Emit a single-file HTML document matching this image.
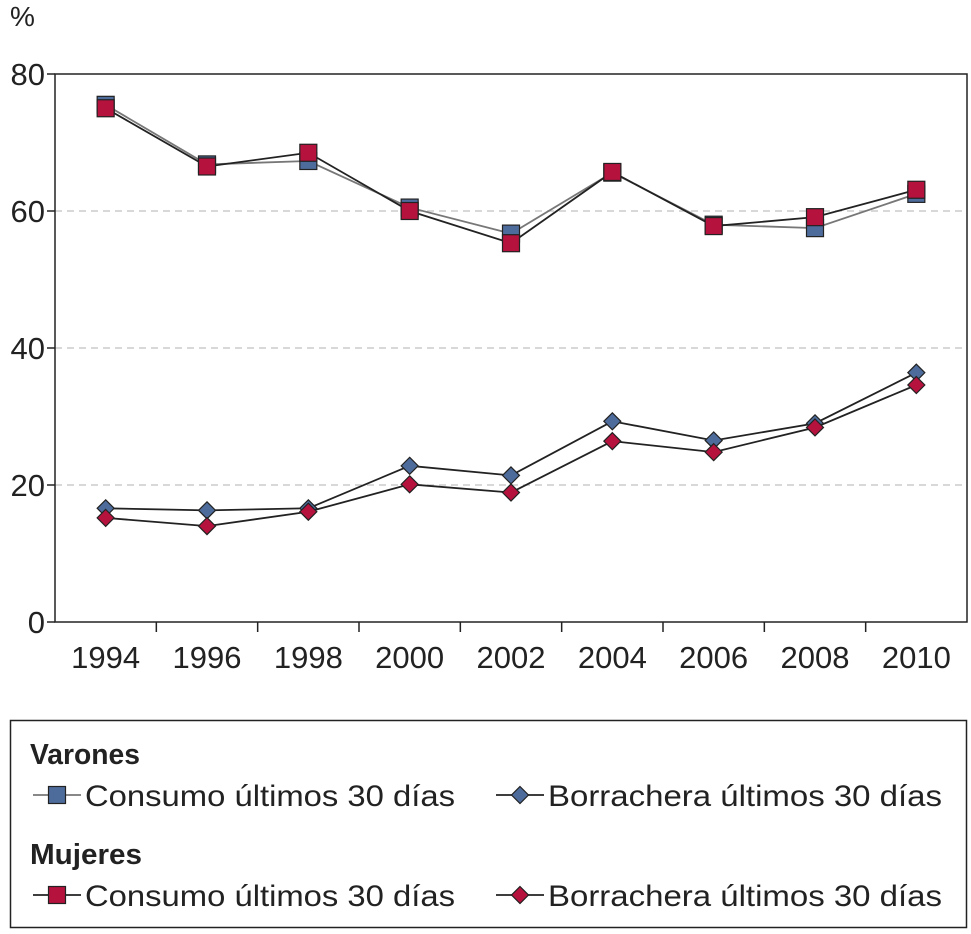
<!DOCTYPE html>
<html><head><meta charset="utf-8"><style>
body{margin:0;background:#fff;width:971px;height:929px;overflow:hidden;font-family:"Liberation Sans",sans-serif;}
svg text{font-family:"Liberation Sans",sans-serif;fill:#222;}
</style></head><body>
<svg id="chart" width="971" height="929" xmlns="http://www.w3.org/2000/svg">
<g id="axes"></g>
<g id="series"></g>
<g id="legend">
<rect x="10.5" y="720.5" width="956" height="207" fill="none" stroke="#222" stroke-width="1.5"/>
<text x="30" y="764" font-size="29" font-weight="bold" textLength="110" lengthAdjust="spacingAndGlyphs">Varones</text>
<text x="30" y="864" font-size="29" font-weight="bold" textLength="112" lengthAdjust="spacingAndGlyphs">Mujeres</text>
</g>
</svg>
<script>
const categories=["1994","1996","1998","2000","2002","2004","2006","2008","2010"];
const varonesConsumo=[75.5,66.8,67.3,60.5,56.7,65.6,58.0,57.5,62.5];
const mujeresConsumo=[75.0,66.5,68.5,60.0,55.3,65.7,57.8,59.1,63.1];
const varonesBorrachera=[16.6,16.3,16.6,22.8,21.4,29.3,26.5,29.0,36.4];
const mujeresBorrachera=[15.2,14.0,16.1,20.1,18.9,26.4,24.8,28.4,34.6];
const yTicks=[0,20,40,60,80];

const NS="http://www.w3.org/2000/svg";
const L=55,R=967,T=74,B=622;
const band=(R-L)/categories.length;
const x=i=>L+band*(i+0.5);
const y=v=>B-(v/80)*(B-T);
function mk(tag,attrs,parent){const e=document.createElementNS(NS,tag);for(const k in attrs)e.setAttribute(k,attrs[k]);parent.appendChild(e);return e;}
const axes=document.getElementById('axes'),ser=document.getElementById('series'),leg=document.getElementById('legend');

yTicks.forEach(t=>{
  if(t>0&&t<80){const g=mk('line',{x1:L,x2:R,y1:y(t),y2:y(t),stroke:'#ccc','stroke-width':1.5,'stroke-dasharray':'7,5'},axes);
  
  }
  const tk=mk('line',{x1:L-8,x2:L,y1:y(t),y2:y(t),stroke:'#222','stroke-width':1.5},axes);
  
  
  const tx=mk('text',{x:L-10,y:y(t)+11,'font-size':31,'text-anchor':'end'},axes);tx.textContent=t;
  
  
});
const pct=mk('text',{x:10,y:26,'font-size':28},axes);pct.textContent='%';


const frame=mk('rect',{x:L,y:T,width:R-L,height:B-T,fill:'none',stroke:'#222','stroke-width':1.5},axes);


for(let i=1;i<categories.length;i++){const tk=mk('line',{x1:L+band*i,x2:L+band*i,y1:B,y2:B+10,stroke:'#222','stroke-width':1.5},axes);

}
categories.forEach((c,i)=>{const tx=mk('text',{x:x(i),y:B+46,'font-size':31,'text-anchor':'middle'},axes);tx.textContent=c;

});

const BLUE='#4d6c9c',RED='#b5123e';
function marker(shape,cx,cy,fill,parent,s){
  if(shape==='sq') return mk('rect',{x:cx-s,y:cy-s,width:2*s,height:2*s,fill:fill,stroke:'#222','stroke-width':1.2},parent);
  return mk('polygon',{points:`${cx},${cy-s} ${cx+s},${cy} ${cx},${cy+s} ${cx-s},${cy}`,fill:fill,stroke:'#222','stroke-width':1.2},parent);
}
function series(vals,shape,fill,line,name){
  const g=mk('g',{},ser);
  
  
  const pl=mk('polyline',{points:vals.map((v,i)=>x(i)+','+y(v)).join(' '),fill:'none',stroke:line,'stroke-width':1.8},g);
  
  
  vals.forEach((v,i)=>{const m=marker(shape,x(i),y(v),fill,g,8.5);
    
    });
}
series(varonesConsumo,'sq',BLUE,'#777','varones-consumo');
series(mujeresConsumo,'sq',RED,'#222','mujeres-consumo');
series(varonesBorrachera,'di',BLUE,'#222','varones-borrachera');
series(mujeresBorrachera,'di',RED,'#222','mujeres-borrachera');

function legendEntry(lx,ly,shape,fill,line,label,name,len){
  const g=mk('g',{},leg);
  
  
  mk('line',{x1:lx,x2:lx+48,y1:ly,y2:ly,stroke:line,'stroke-width':1.8},g);
  marker(shape,lx+24,ly,fill,g,8.5);
  const t=mk('text',{x:lx+52,y:ly+11,'font-size':30,textLength:len,lengthAdjust:'spacingAndGlyphs'},g);t.textContent=label;
}
legendEntry(33,795,'sq',BLUE,'#777','Consumo últimos 30 días','legend-varones-consumo',370);
legendEntry(496,795,'di',BLUE,'#222','Borrachera últimos 30 días','legend-varones-borrachera',394);
legendEntry(33,895,'sq',RED,'#222','Consumo últimos 30 días','legend-mujeres-consumo',370);
legendEntry(496,895,'di',RED,'#222','Borrachera últimos 30 días','legend-mujeres-borrachera',394);
</script>
</body></html>
